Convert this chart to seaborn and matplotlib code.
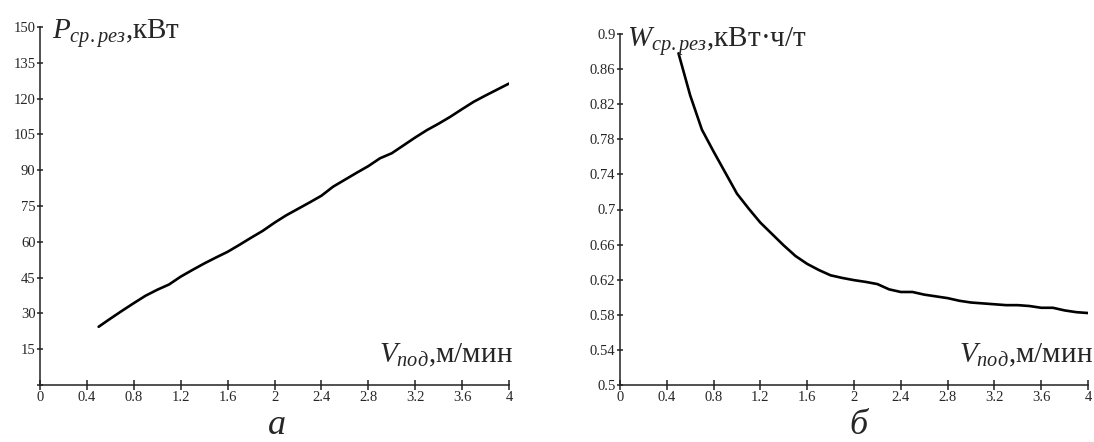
import numpy as np
import pandas as pd
import matplotlib
matplotlib.use("Agg")
import matplotlib.pyplot as plt
import seaborn as sns

# ---- data ----
v_feed = [0.5, 0.6, 0.7, 0.8, 0.9, 1.0, 1.1, 1.2, 1.3, 1.4, 1.5, 1.6, 1.7, 1.8, 1.9,
          2.0, 2.1, 2.2, 2.3, 2.4, 2.5, 2.6, 2.7, 2.8, 2.9, 3.0, 3.1, 3.2, 3.3, 3.4,
          3.5, 3.6, 3.7, 3.8, 3.9, 4.0]
power = [24.4, 27.8, 31.1, 34.3, 37.4, 39.9, 42.1, 45.4, 48.2, 50.9, 53.4, 55.8, 58.7,
         61.7, 64.6, 68.0, 71.1, 73.8, 76.5, 79.3, 83.1, 86.0, 88.9, 91.7, 95.0, 97.1,
         100.4, 103.7, 106.8, 109.5, 112.4, 115.6, 118.7, 121.3, 123.8, 126.3]
energy = [0.878, 0.830, 0.791, 0.766, 0.742, 0.718, 0.701, 0.685, 0.672, 0.659, 0.647,
          0.638, 0.631, 0.625, 0.622, 0.6195, 0.6175, 0.615, 0.609, 0.606, 0.606, 0.603,
          0.601, 0.599, 0.596, 0.594, 0.593, 0.592, 0.591, 0.591, 0.590, 0.588, 0.588,
          0.585, 0.583, 0.582]

x_ticks = [0, 0.4, 0.8, 1.2, 1.6, 2, 2.4, 2.8, 3.2, 3.6, 4]
x_ticklabels = ["0", "0.4", "0.8", "1.2", "1.6", "2", "2.4", "2.8", "3.2", "3.6", "4"]
p_ticks = [0, 15, 30, 45, 60, 75, 90, 105, 120, 135, 150]
p_ticklabels = ["", "15", "30", "45", "60", "75", "90", "105", "120", "135", "150"]
w_ticks = [0.5, 0.54, 0.58, 0.62, 0.66, 0.7, 0.74, 0.78, 0.82, 0.86, 0.9]
w_ticklabels = ["0.5", "0.54", "0.58", "0.62", "0.66", "0.7", "0.74", "0.78", "0.82", "0.86", "0.9"]

p_label = r"$P_{ср{.}рез}$,кВт"
w_label = r"$W_{ср{.}рез}$,кВт·ч/т"
v_label = r"$V_{под}$,м/мин"
panel_a = "а"
panel_b = "б"

# ---- style ----
sns.set_style("ticks")
plt.rcParams["font.family"] = ["Liberation Serif", "DejaVu Serif"]
plt.rcParams["mathtext.fontset"] = "custom"
plt.rcParams["mathtext.rm"] = "Liberation Serif"
plt.rcParams["mathtext.it"] = "Liberation Serif:italic"

W, H = 1094, 442
fig = plt.figure(figsize=(W / 100, H / 100), dpi=100)

def px_rect(x0, y0, x1, y1):
    return [x0 / W, 1 - y1 / H, (x1 - x0) / W, (y1 - y0) / H]

ax1 = fig.add_axes(px_rect(40, 27, 509, 385))
ax2 = fig.add_axes(px_rect(620, 34, 1088, 385))

df = pd.DataFrame({"v": v_feed, "p": power, "w": energy})
sns.lineplot(data=df, x="v", y="p", ax=ax1, color="black", lw=1.9)
sns.lineplot(data=df, x="v", y="w", ax=ax2, color="black", lw=1.9)

for ax, yt, ytl, ylim in [(ax1, p_ticks, p_ticklabels, (0, 150)),
                          (ax2, w_ticks, w_ticklabels, (0.5, 0.9))]:
    ax.set_xlim(0, 4)
    ax.set_ylim(*ylim)
    ax.set_xticks(x_ticks)
    ax.set_xticklabels(x_ticklabels)
    ax.set_yticks(yt)
    ax.set_yticklabels(ytl)
    ax.set_xlabel("")
    ax.set_ylabel("")
    for s in ["top", "right"]:
        ax.spines[s].set_visible(False)
    for s in ["left", "bottom"]:
        ax.spines[s].set_color("#222222")
        ax.spines[s].set_linewidth(1.1)
    ax.tick_params(axis="x", direction="inout", length=6.5, width=1.1, color="#222222",
                   labelsize=10.5, pad=1)
    ax.tick_params(axis="y", direction="inout", length=4.5, width=1.1, color="#222222",
                   labelsize=10.5, pad=1)
    ax.patch.set_alpha(0)

# axis titles
fig.text(52 / W, 1 - 39 / H, p_label, fontsize=21, va="baseline", ha="left")
fig.text(627 / W, 1 - 47 / H, w_label, fontsize=21, va="baseline", ha="left")
fig.text(513 / W, 1 - 362 / H, v_label, fontsize=21, va="baseline", ha="right")
fig.text(1093 / W, 1 - 362 / H, v_label, fontsize=21, va="baseline", ha="right")

# panel letters
fig.text(277 / W, 1 - 434 / H, panel_a, fontsize=26, style="italic", va="baseline", ha="center")
fig.text(858 / W, 1 - 434 / H, panel_b, fontsize=26, style="italic", va="baseline", ha="center")

fig.savefig("out.png", dpi=100)
